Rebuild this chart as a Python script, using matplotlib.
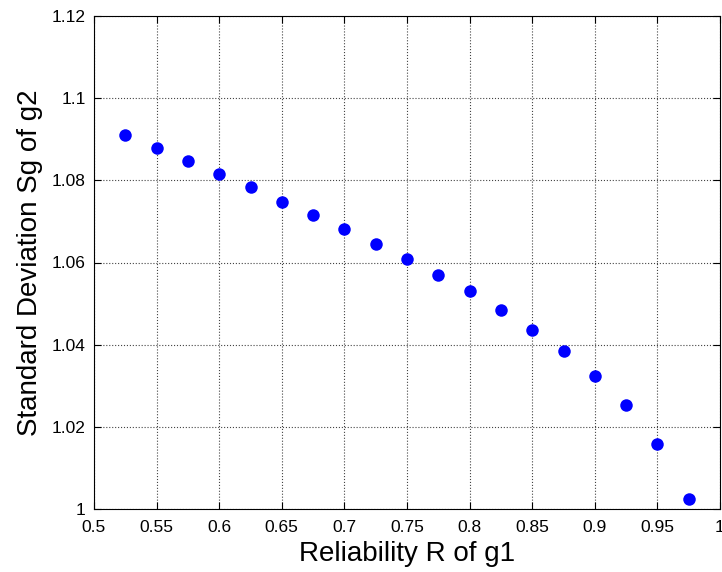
import matplotlib
matplotlib.use("Agg")
import matplotlib.pyplot as plt

reliability = [0.525, 0.55, 0.575, 0.6, 0.625, 0.65, 0.675, 0.7, 0.725, 0.75,
               0.775, 0.8, 0.825, 0.85, 0.875, 0.9, 0.925, 0.95, 0.975]
std_dev = [1.0910, 1.0879, 1.0846, 1.0815, 1.0784, 1.0748, 1.0716, 1.0682, 1.0646, 1.0608,
           1.0569, 1.0531, 1.0485, 1.0436, 1.0384, 1.0324, 1.0254, 1.0159, 1.0024]
x_ticks = [0.5, 0.55, 0.6, 0.65, 0.7, 0.75, 0.8, 0.85, 0.9, 0.95, 1.0]
x_ticklabels = ["0.5", "0.55", "0.6", "0.65", "0.7", "0.75", "0.8", "0.85", "0.9", "0.95", "1"]
y_ticks = [1.0, 1.02, 1.04, 1.06, 1.08, 1.1, 1.12]
y_ticklabels = ["1", "1.02", "1.04", "1.06", "1.08", "1.1", "1.12"]

plt.rcParams['font.family'] = ['Liberation Sans', 'DejaVu Sans']

fig = plt.figure(figsize=(7.22, 5.72), dpi=100)
ax = fig.add_axes([94/722, 63/572, 626/722, 493/572])
ax.plot(reliability, std_dev, 'o', color='#0000ff', markersize=9, markeredgewidth=0)
ax.set_xlim(0.5, 1.0)
ax.set_ylim(1.0, 1.12)
ax.set_xticks(x_ticks)
ax.set_xticklabels(x_ticklabels)
ax.set_yticks(y_ticks)
ax.set_yticklabels(y_ticklabels)
ax.tick_params(direction='in', length=5, width=0.8, top=True, right=True,
               labelsize=12.5)
ax.tick_params(axis='x', pad=8)
ax.tick_params(axis='y', pad=6)
ax.grid(True, linestyle=':', color='#444444', linewidth=0.8)
for s in ax.spines.values():
    s.set_linewidth(0.8)
ax.set_xlabel("Reliability R of g1", fontsize=20, labelpad=4)
ax.set_ylabel("Standard Deviation Sg of g2", fontsize=20, labelpad=6)
fig.savefig("out.png", dpi=100)
